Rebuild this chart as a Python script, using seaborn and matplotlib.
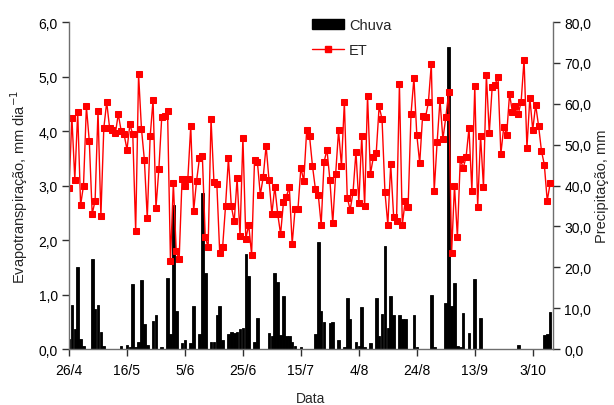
import numpy as np
import pandas as pd
import matplotlib
matplotlib.use("Agg")
import matplotlib.pyplot as plt
from matplotlib.ticker import FuncFormatter, MultipleLocator
from matplotlib.patches import Patch
from matplotlib.lines import Line2D
import seaborn as sns

# Daily evapotranspiration (mm/day), starting 26/4
et = [2.96, 4.24, 3.11, 4.34, 2.64, 3.00, 4.45, 3.81, 2.48, 2.72,
      4.37, 2.44, 4.05, 4.53, 4.06, 4.02, 3.96, 4.31, 4.00, 3.94,
      3.66, 4.12, 3.94, 2.16, 5.04, 4.04, 3.47, 2.40, 3.90, 4.57,
      2.59, 3.30, 4.26, 4.28, 4.37, 1.62, 3.04, 1.79, 1.65, 3.12,
      3.00, 3.12, 4.09, 2.53, 3.08, 3.50, 3.55, 2.06, 1.87, 4.22,
      3.07, 3.03, 1.76, 1.87, 2.62, 3.50, 2.62, 2.34, 3.13, 2.08,
      3.88, 2.02, 2.28, 1.73, 3.46, 3.43, 2.83, 3.15, 3.73, 3.11,
      2.48, 2.98, 2.48, 2.11, 2.70, 2.79, 2.98, 1.93, 2.57, 2.57,
      3.33, 3.08, 4.01, 3.90, 3.36, 2.94, 2.83, 2.28, 3.43, 3.66,
      3.11, 2.31, 3.21, 4.01, 3.36, 4.53, 2.78, 2.55, 2.88, 3.62,
      2.68, 3.91, 2.63, 4.65, 3.21, 3.52, 3.60, 4.45, 4.22, 2.89,
      2.28, 3.39, 2.43, 2.34, 4.86, 2.28, 2.72, 2.61, 4.31, 4.97,
      3.93, 3.41, 4.28, 4.25, 4.53, 5.23, 2.90, 3.79, 4.57, 3.85,
      4.25, 4.71, 1.76, 3.00, 2.05, 3.49, 3.32, 3.52, 4.05, 2.90,
      4.82, 2.61, 3.91, 2.97, 5.03, 3.96, 4.80, 4.85, 5.00, 3.58,
      4.07, 3.93, 4.68, 4.34, 4.46, 4.31, 4.54, 5.31, 3.69, 4.61,
      4.02, 4.48, 4.10, 3.64, 3.38, 2.72, 3.04]

# Daily rainfall (mm); days without rain are zero
rain = [2.4, 10.8, 4.9, 20.0, 2.4, 0.8, 0.0, 0.0, 22.0, 9.8,
        10.8, 4.2, 0.8, 0.0, 0.0, 0.0, 0.0, 0.0, 0.8, 0.0,
        1.1, 0.6, 16.0, 0.6, 1.6, 16.9, 6.0, 1.1, 0.0, 6.8,
        8.3, 0.0, 0.6, 0.0, 17.4, 3.7, 35.2, 9.4, 0.0, 1.5,
        2.2, 0.0, 1.5, 10.6, 0.0, 3.7, 38.1, 18.5, 0.0, 1.6,
        1.6, 8.4, 10.6, 2.2, 0.0, 3.7, 4.2, 3.9, 4.1, 4.9,
        5.1, 23.2, 17.9, 0.0, 1.6, 7.5, 0.0, 0.0, 0.0, 3.9,
        3.1, 18.5, 16.3, 3.4, 13.0, 3.3, 3.3, 1.6, 0.8, 0.0,
        0.4, 0.0, 0.0, 0.0, 0.0, 3.7, 26.1, 9.2, 6.6, 0.0,
        6.3, 6.5, 0.0, 2.3, 0.0, 0.5, 12.6, 7.4, 0.0, 1.6,
        0.7, 10.3, 0.6, 0.0, 1.4, 0.0, 12.6, 3.3, 8.5, 25.1,
        5.2, 12.9, 8.3, 0.0, 8.3, 7.3, 7.3, 0.0, 0.0, 8.3,
        0.5, 0.0, 0.0, 0.0, 0.0, 13.2, 0.4, 0.0, 0.0, 0.0,
        11.2, 74.0, 10.6, 16.1, 0.8, 0.6, 8.8, 0.0, 3.9, 0.0,
        17.1, 0.0, 7.7, 0.0, 0.0, 0.0, 0.0, 0.0, 0.0, 0.0,
        0.0, 0.0, 0.0, 0.0, 0.0, 1.1, 0.0, 0.0, 0.0, 0.0,
        0.0, 0.0, 0.0, 0.0, 3.4, 3.7, 9.0]

tick_days = [0, 20, 40, 60, 80, 100, 120, 140, 160]
tick_labels = ["26/4", "16/5", "5/6", "25/6", "15/7", "4/8", "24/8", "13/9", "3/10"]

days = np.arange(len(et))
df = pd.DataFrame({"dia": days, "ET": et, "Chuva": rain})

sns.set_style("white")
plt.rcParams["font.family"] = ["Liberation Sans", "DejaVu Sans"]
plt.rcParams["font.size"] = 10

fig = plt.figure(figsize=(6.14, 4.06), dpi=100)
ax = fig.add_axes([0.1124, 0.1379, 0.7883, 0.8054])
ax2 = ax.twinx()

# Rainfall columns on the secondary axis
sns.barplot(data=df, x="dia", y="Chuva", native_scale=True, color="black",
            width=0.9, errorbar=None, saturation=1, ax=ax2,
            linewidth=0.6, edgecolor="black")

# Evapotranspiration line drawn above the columns
sns.lineplot(data=df, x="dia", y="ET", color="#ff0000", linewidth=1.0,
             marker="s", markersize=4.6, markeredgecolor="#ff0000",
             markerfacecolor="#ff0000", ax=ax)
ax.set_zorder(ax2.get_zorder() + 1)
ax.patch.set_visible(False)

comma = FuncFormatter(lambda v, p: f"{v:.1f}".replace(".", ","))

ax.set_xlim(0, 167)
ax.set_ylim(0, 6)
ax2.set_ylim(0, 80)
ax.yaxis.set_major_locator(MultipleLocator(1))
ax2.yaxis.set_major_locator(MultipleLocator(10))
ax.yaxis.set_major_formatter(comma)
ax2.yaxis.set_major_formatter(comma)
ax.set_xticks(tick_days)
ax.set_xticklabels(tick_labels)

spine_col = "#6e6e6e"
for a in (ax, ax2):
    for s in a.spines.values():
        s.set_color(spine_col)
        s.set_linewidth(1.0)
    a.spines["top"].set_visible(False)
    a.tick_params(axis="both", direction="out", length=5, width=1,
                  color="#303030", labelsize=10, labelcolor="black", pad=3)
ax.spines["right"].set_visible(False)
ax2.spines["left"].set_visible(False)
ax2.spines["bottom"].set_visible(False)
ax.tick_params(axis="y", left=True, right=False)
ax.tick_params(axis="x", bottom=True, pad=5)
ax2.tick_params(axis="y", right=True, left=False)

ax.set_xlabel("Data", fontsize=10, labelpad=10)
ax.set_ylabel("Evapotranspiração, mm dia$^{-1}$", fontsize=10.5, labelpad=6)
ax2.set_ylabel("Precipitação, mm", fontsize=10.5, labelpad=3)

handles = [Patch(facecolor="black", edgecolor="black"),
           Line2D([0], [0], color="#ff0000", lw=1.0, marker="s",
                  markersize=4.6, markerfacecolor="#ff0000")]
ax.legend(handles, ["Chuva", "ET"], loc="upper left",
          bbox_to_anchor=(0.49, 1.03), frameon=False, fontsize=10.5,
          handlelength=2.2, handleheight=0.7, labelspacing=0.75,
          handletextpad=0.35, borderaxespad=0)

fig.savefig("out.png", dpi=100)
